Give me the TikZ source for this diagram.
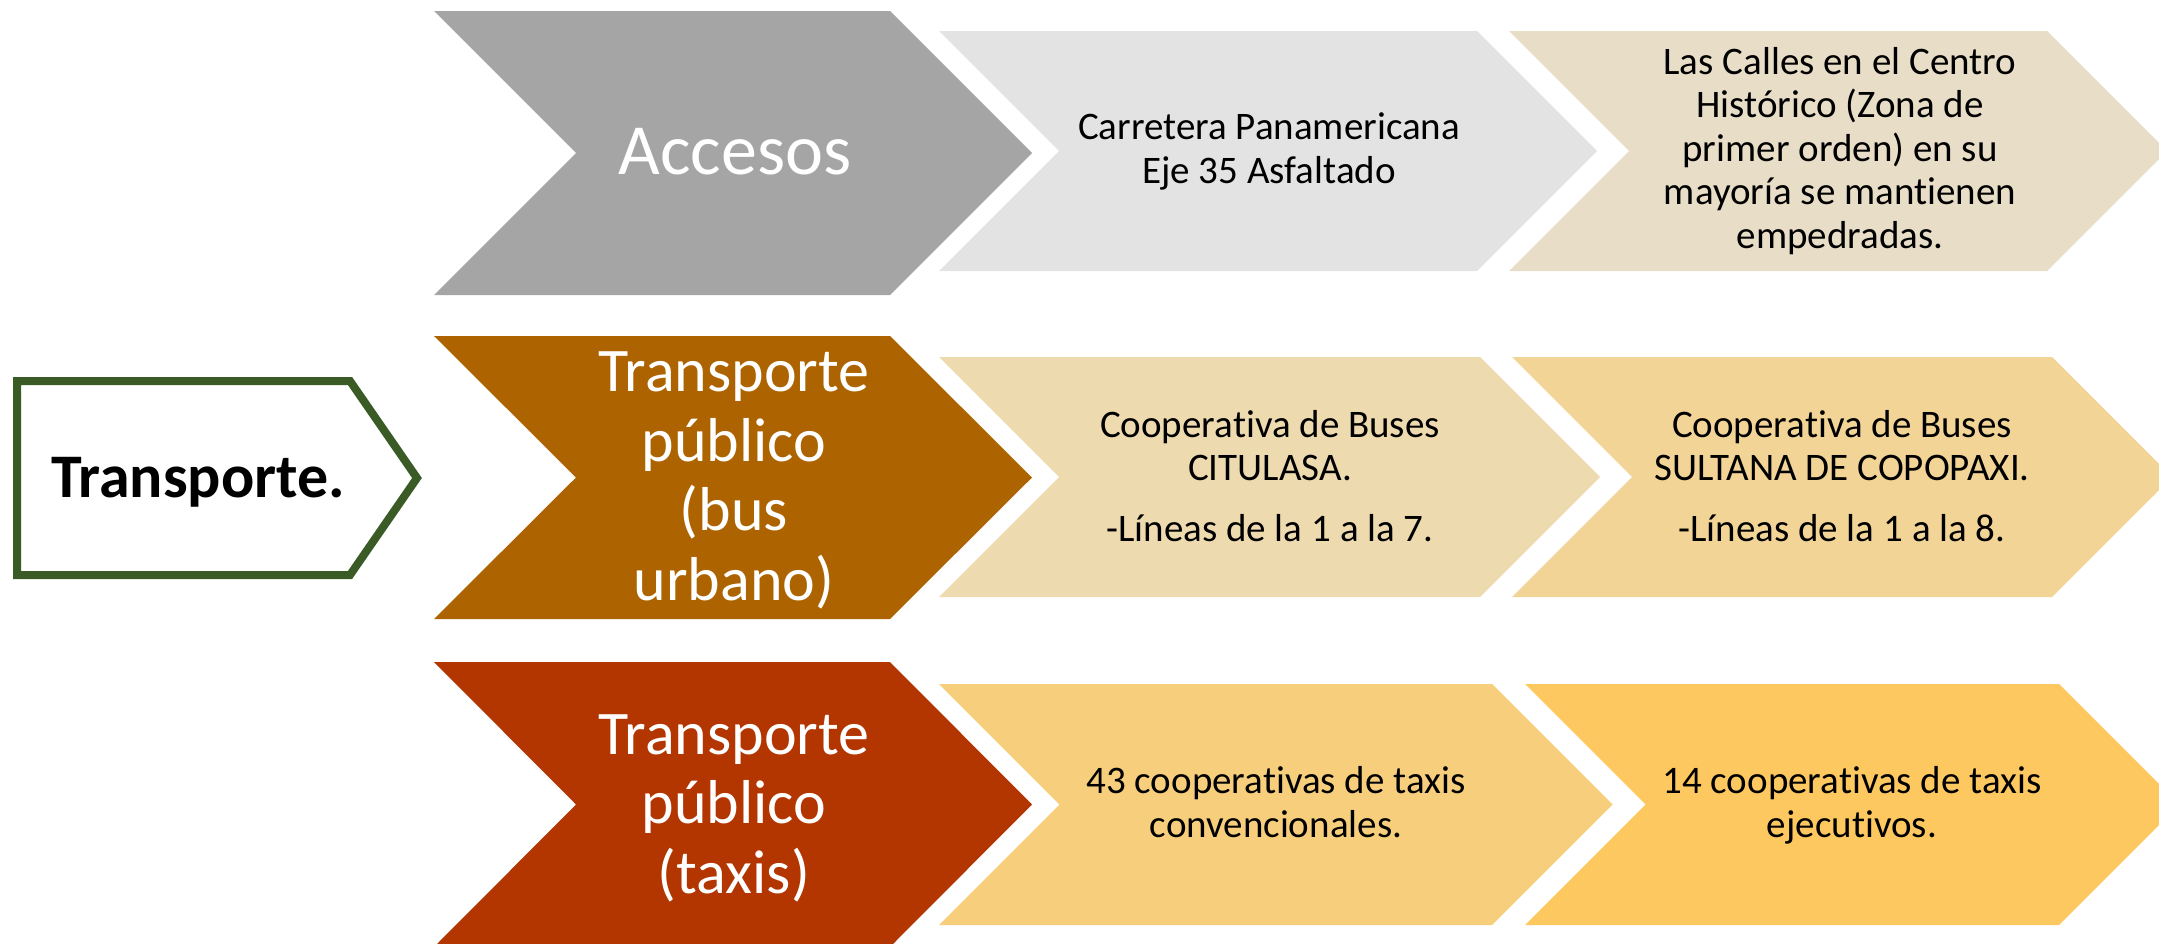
\documentclass[tikz,border=0pt]{standalone}
\usepackage{fontspec}
\setmainfont{Carlito}[Ligatures={NoCommon}]
\definecolor{cGray}{HTML}{A5A5A5}
\definecolor{cLightGray}{HTML}{E3E3E3}
\definecolor{cBeige}{HTML}{E8DDC6}
\definecolor{cBrown}{HTML}{AD6400}
\definecolor{cSand}{HTML}{EEDAAF}
\definecolor{cSand2}{HTML}{F2D496}
\definecolor{cRed}{HTML}{B33500}
\definecolor{cYel}{HTML}{F7CF7C}
\definecolor{cYel2}{HTML}{FEC860}
\definecolor{cGreen}{HTML}{3A5A26}
\newcommand\mychev[6]{\fill[#1] (#2,#4) -- (#3,#4) -- ({#3+#6},{(#4+#5)/2}) -- (#3,#5) -- (#2,#5) -- ({#2+#6},{(#4+#5)/2}) -- cycle;}
\tikzset{
  sec/.style={font=\fontsize{19.5}{21.75}\selectfont, align=center, anchor=base, inner sep=0pt, text=black},
  mainlbl/.style={font=\fontsize{31}{34.75}\selectfont, align=center, anchor=base, inner sep=0pt, text=white},
}
\begin{document}
\begin{tikzpicture}[x=0.5pt,y=-0.5pt]
\useasboundingbox (0,0) rectangle (2159,943);
\clip (0,0) rectangle (2159,943);
% main chevrons
\mychev{cGray}{434}{890}{11}{295}{142}
\mychev{cBrown}{434}{890}{336}{619}{142}
\mychev{cRed}{434}{890}{662}{947}{142}
% second column
\mychev{cLightGray}{939}{1477}{31}{271}{120}
\mychev{cSand}{939}{1480}{357}{597}{120}
\mychev{cYel}{939}{1492}{684}{925}{120.5}
% third column
\mychev{cBeige}{1509}{2047}{31}{271}{120}
\mychev{cSand2}{1512}{2052}{357}{597}{120}
\mychev{cYel2}{1525}{2059}{684}{925}{120.5}
% left box
\draw[cGreen, line width=4pt, fill=white, line join=miter] (17,381) -- (350,381) -- (417,478) -- (350,575) -- (17,575) -- cycle;
\node[anchor=base, inner sep=0pt, font=\fontsize{31}{34}\selectfont\bfseries] (transp) at (198,497) {Transporte.};
% main labels
\node[anchor=base, inner sep=0pt, text=white, font=\fontsize{36}{40}\selectfont] (acc) at (735,174) {Accesos};
\node[mainlbl] (bus) at (734,600) {Transporte\\público\\(bus\\urbano)};
\node[mainlbl] (taxi) at (734,893) {Transporte\\público\\(taxis)};
% secondary labels
\node[sec] (carr) at (1269,183) {Carretera Panamericana\\Eje 35 Asfaltado};
\node[sec] (calles) at (1840,248) {Las Calles en el Centro\\Histórico (Zona de\\primer orden) en su\\mayoría se mantienen\\empedradas.};
\node[sec] (citu) at (1270,541) {Cooperativa de Buses\\CITULASA.\\[8.5pt]-Líneas de la 1 a la 7.};
\node[sec] (sult) at (1842,541) {Cooperativa de Buses\\SULTANA DE COPOPAXI.\\[8.5pt]-Líneas de la 1 a la 8.};
\node[sec] (conv) at (1276,837) {43 cooperativas de taxis\\convencionales.};
\node[sec] (ejec) at (1852,837) {14 cooperativas de taxis\\ejecutivos.};
\end{tikzpicture}
\end{document}
